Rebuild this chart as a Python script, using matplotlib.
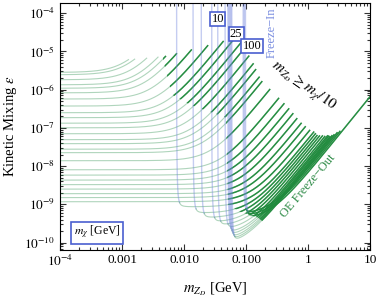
import numpy as np
import matplotlib
matplotlib.use("Agg")
import matplotlib.pyplot as plt
from matplotlib.patches import Polygon
from matplotlib.ticker import LogLocator, NullFormatter

plt.rcParams['font.family'] = ['Liberation Serif', 'DejaVu Serif']
plt.rcParams['mathtext.fontset'] = 'stix'

# contours that start at the left edge: plateau level of epsilon and the knee in m_ZD [GeV]
plateau_eps = [2.8e-6, 2.43e-6, 1.8e-6, 1.33e-6, 1.08e-6, 8.2e-7, 5.65e-7, 3.7e-7,
               2.48e-7, 1.84e-7, 1.32e-7, 1.0e-7, 7.0e-8, 4.9e-8, 3.85e-8, 2.76e-8,
               2.24e-8, 1.38e-8, 8.0e-9, 5.8e-9, 4.3e-9, 3.27e-9, 2.5e-9, 1.9e-9,
               1.5e-9, 1.17e-9]
plateau_knee = [1.18e-3, 1.28e-3, 1.53e-3, 1.84e-3, 2.09e-3, 2.45e-3, 3.08e-3, 3.97e-3,
                5.06e-3, 6.05e-3, 7.38e-3, 8.67e-3, 1.08e-2, 1.34e-2, 1.55e-2, 1.88e-2,
                2.14e-2, 2.85e-2, 3.94e-2, 4.82e-2, 5.77e-2, 6.79e-2, 7.98e-2, 9.4e-2,
                0.108, 0.125]

# freeze-in contours: blue line position [GeV], lowest epsilon, eps / m_ZD^2 on the right
hook_mz = [0.0076, 0.014, 0.019, 0.028, 0.035, 0.046, 0.051, 0.053, 0.055, 0.057,
           0.059, 0.090, 0.094, 0.098]
hook_eps = [8.5e-10, 5.8e-10, 4.3e-10, 3.2e-10, 2.5e-10, 1.9e-10, 1.4e-10, 1.15e-10,
            0.95e-10, 0.8e-10, 0.7e-10, 5.0e-10, 4.3e-10, 3.7e-10]
hook_coef = [5.0e-8, 4.0e-8, 3.2e-8, 2.6e-8, 2.1e-8, 1.7e-8, 1.45e-8, 1.3e-8,
             1.15e-8, 1.05e-8, 0.95e-8, 8.5e-9, 7.5e-9, 6.5e-9]

# upper edge where the contours stop
edge_mz = [1e-4, 0.00125, 0.0049, 0.018, 0.0716, 0.086, 0.125, 0.168, 0.458, 0.743,
           1.4, 2.3, 3.5, 10]
edge_eps = [6.0e-6, 6.0e-6, 7.2e-6, 1.23e-5, 2.24e-5, 1.48e-5, 5.4e-6, 1.8e-6, 3.5e-7,
            1.35e-7, 5.9e-8, 5.8e-8, 8.5e-8, 1e-6]

# region where contours are drawn dark
dark_mz = [0.00458, 0.00458, 0.0064, 0.0125, 0.0476, 0.0512, 0.080, 0.156, 0.294, 0.743, 20, 20]
dark_eps = [1e-3, 6e-6, 7.3e-7, 4e-7, 1.84e-7, 9.8e-10, 6.4e-10, 4.5e-10, 1.94e-10,
            3e-11, 3e-11, 1e-3]

green = '#2f9150'
dark = '#1f8a3c'
blue = '#6f82dc'

fig = plt.figure(figsize=(3.79, 2.97), dpi=100)
ax = fig.add_axes([60 / 379, 1 - 249.5 / 297, 310 / 379, 246.8 / 297])
ax.set_xscale('log')
ax.set_yscale('log')
ax.set_xlim(1e-4, 10)
ax.set_ylim(6.6e-11, 1.86e-4)

clip = Polygon(np.column_stack([dark_mz, dark_eps]), closed=True, transform=ax.transData)
le_x = np.log10(edge_mz)
le_y = np.log10(edge_eps)


def cut(x, y):
    lim = np.interp(np.log10(x), le_x, le_y)
    above = np.log10(y) > lim
    if above.any():
        k = np.argmax(above)
        return x[:k + 1], y[:k + 1]
    return x, y


def draw_green(x, y):
    ax.plot(x, y, color=green, lw=0.8, alpha=0.38)
    ln, = ax.plot(x, y, color=dark, lw=1.1, alpha=0.95)
    ln.set_clip_path(clip)


xs = np.logspace(-4, 1, 1500)
for p, k in zip(plateau_eps, plateau_knee):
    ys = p * (1 + (xs / k) ** 2)
    draw_green(*cut(xs, ys))

for i, (xf, p, c) in enumerate(zip(hook_mz, hook_eps, hook_coef)):
    t = np.geomspace(1e-7, np.log(10 / xf), 2000)
    x = xf * np.exp(t)
    f = 1 + (0.06 / t) ** 2
    y = (p + c * x ** 2) * f
    b = f > 1.3
    nb = np.argmax(~b)
    ax.plot(x[:nb + 1], y[:nb + 1], color=blue, lw=1.0, alpha=0.4)
    gx, gy = x[nb:], y[nb:]
    if i != len(hook_mz) - 1:
        gx, gy = cut(gx, gy)
    draw_green(gx, gy)

# ticks
ax.set_xticks([1e-4, 1e-3, 1e-2, 1e-1, 1, 10])
ax.set_xticklabels([r'$10^{-4}$', '0.001', '0.010', '0.100', '1', '10'])
ax.set_yticks([10.0 ** e for e in range(-10, -3)])
ax.set_yticklabels([r'$10^{%d}$' % e for e in range(-10, -3)])
for a in (ax.xaxis, ax.yaxis):
    a.set_minor_locator(LogLocator(base=10, subs=np.arange(2, 10), numticks=30))
    a.set_minor_formatter(NullFormatter())
ax.tick_params(which='both', direction='in', top=True, right=True, labelsize=9.5,
               width=0.8, color='#333333')
ax.tick_params(which='major', length=4.5)
ax.tick_params(which='minor', length=2.5)
for s in ax.spines.values():
    s.set_linewidth(0.8)

ax.set_xlabel(r'$m_{Z_D}$ [GeV]', fontsize=10.5, labelpad=8)
ax.set_ylabel(r'Kinetic Mixing $\epsilon$', fontsize=10.5, labelpad=4)

box = dict(boxstyle='square,pad=0.1', fc='white', ec='#4a5fd0', lw=1.2)
ax.text(0.0353, 7.06e-5, '10', fontsize=9, ha='center', va='center', bbox=box)
ax.text(0.069, 2.86e-5, '25', fontsize=9, ha='center', va='center', bbox=box)
ax.text(0.125, 1.39e-5, '100', fontsize=9, ha='center', va='center', bbox=box)
ax.text(3.95e-4, 1.82e-10, r'$m_\chi$ [GeV]', fontsize=8.5, ha='center', va='center',
        bbox=dict(boxstyle='square,pad=0.2', fc='white', ec='#4a5fd0', lw=1.2))
ax.text(0.262, 3.04e-5, 'Freeze\u2212In', fontsize=9, color='#7b8ee0', rotation=90,
        ha='center', va='center')
ax.text(0.86, 1.25e-6, r'$m_{Z_D}\geq m_\chi/10$', fontsize=11, rotation=-35,
        ha='center', va='center')
ax.text(1.0, 3.1e-9, 'OE Freeze\u2212Out', fontsize=9, color='#2e8b47', rotation=50,
        ha='center', va='center')

fig.savefig('out.png', dpi=100)
